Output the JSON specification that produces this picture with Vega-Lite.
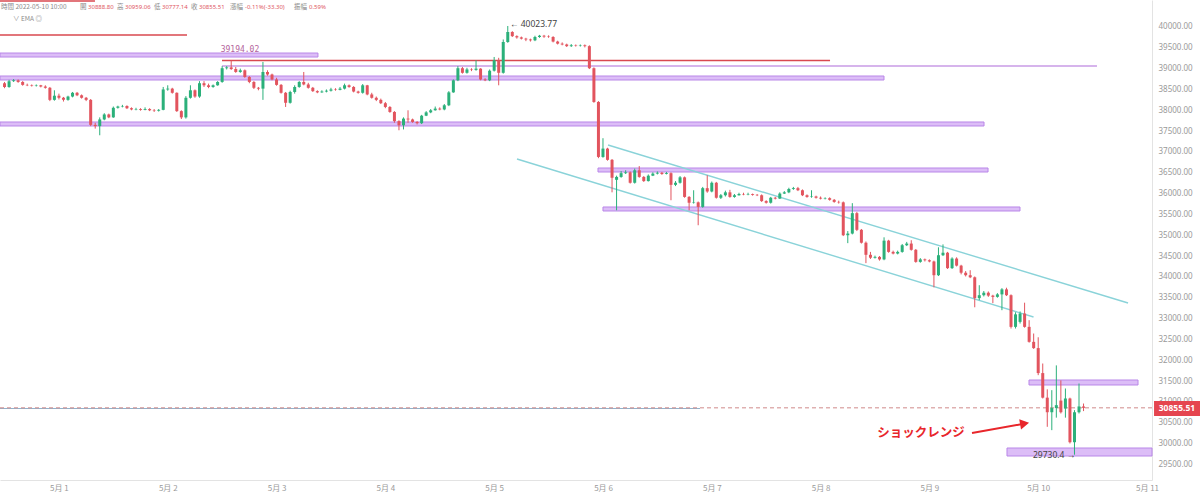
{
"$schema":"https://vega.github.io/schema/vega-lite/v6.json",
"width":1152,"height":480,
"autosize":{"type":"none"},
"padding":{"left":0,"top":0,"right":48,"bottom":14},
"background":"white",
"config":{"view":{"stroke":null},"font":"Noto Sans CJK SC",
"axis":{"ticks":false,"grid":false,"domainColor":"#e3e3e3","labelColor":"#9a9a9a","labelFontSize":8,"labelFont":"Noto Sans CJK SC","labelPadding":4,"labelFlush":false,"labelOverlap":false},
"axisY":{"labelPadding":6,"labelFont":"Noto Sans"}},
"datasets":{"candles":[
{"t":"2022-04-30T12:00","o":38650,"h":38680,"l":38530,"c":38560},
{"t":"2022-04-30T13:00","o":38560,"h":38730,"l":38540,"c":38700},
{"t":"2022-04-30T14:00","o":38700,"h":38750,"l":38680,"c":38720},
{"t":"2022-04-30T15:00","o":38720,"h":38740,"l":38660,"c":38680},
{"t":"2022-04-30T16:00","o":38680,"h":38700,"l":38590,"c":38610},
{"t":"2022-04-30T17:00","o":38610,"h":38640,"l":38580,"c":38600},
{"t":"2022-04-30T18:00","o":38600,"h":38620,"l":38570,"c":38590},
{"t":"2022-04-30T19:00","o":38590,"h":38620,"l":38570,"c":38600},
{"t":"2022-04-30T20:00","o":38600,"h":38610,"l":38550,"c":38570},
{"t":"2022-04-30T21:00","o":38570,"h":38600,"l":38520,"c":38540},
{"t":"2022-04-30T22:00","o":38540,"h":38560,"l":38220,"c":38250},
{"t":"2022-04-30T23:00","o":38250,"h":38480,"l":38230,"c":38350},
{"t":"2022-05-01T00:00","o":38350,"h":38400,"l":38260,"c":38300},
{"t":"2022-05-01T01:00","o":38300,"h":38320,"l":38210,"c":38250},
{"t":"2022-05-01T02:00","o":38250,"h":38350,"l":38230,"c":38330},
{"t":"2022-05-01T03:00","o":38330,"h":38440,"l":38310,"c":38420},
{"t":"2022-05-01T04:00","o":38420,"h":38440,"l":38340,"c":38360},
{"t":"2022-05-01T05:00","o":38360,"h":38380,"l":38280,"c":38300},
{"t":"2022-05-01T06:00","o":38300,"h":38320,"l":38220,"c":38250},
{"t":"2022-05-01T07:00","o":38250,"h":38270,"l":37620,"c":37650},
{"t":"2022-05-01T08:00","o":37650,"h":37700,"l":37560,"c":37620},
{"t":"2022-05-01T09:00","o":37620,"h":37830,"l":37400,"c":37780},
{"t":"2022-05-01T10:00","o":37780,"h":37930,"l":37760,"c":37900},
{"t":"2022-05-01T11:00","o":37900,"h":37920,"l":37810,"c":37830},
{"t":"2022-05-01T12:00","o":37830,"h":38090,"l":37820,"c":38060},
{"t":"2022-05-01T13:00","o":38060,"h":38110,"l":38040,"c":38090},
{"t":"2022-05-01T14:00","o":38090,"h":38130,"l":38070,"c":38100},
{"t":"2022-05-01T15:00","o":38100,"h":38120,"l":38030,"c":38050},
{"t":"2022-05-01T16:00","o":38050,"h":38070,"l":38000,"c":38020},
{"t":"2022-05-01T17:00","o":38020,"h":38060,"l":38000,"c":38030},
{"t":"2022-05-01T18:00","o":38030,"h":38050,"l":37990,"c":38010},
{"t":"2022-05-01T19:00","o":38010,"h":38070,"l":38000,"c":38030},
{"t":"2022-05-01T20:00","o":38030,"h":38050,"l":37980,"c":38000},
{"t":"2022-05-01T21:00","o":38000,"h":38030,"l":37960,"c":37990},
{"t":"2022-05-01T22:00","o":37990,"h":38030,"l":37970,"c":38010},
{"t":"2022-05-01T23:00","o":38010,"h":38560,"l":38000,"c":38500},
{"t":"2022-05-02T00:00","o":38500,"h":38600,"l":38470,"c":38520},
{"t":"2022-05-02T01:00","o":38520,"h":38540,"l":38400,"c":38420},
{"t":"2022-05-02T02:00","o":38420,"h":38430,"l":37960,"c":37980},
{"t":"2022-05-02T03:00","o":37980,"h":38000,"l":37790,"c":37830},
{"t":"2022-05-02T04:00","o":37830,"h":38340,"l":37800,"c":38300},
{"t":"2022-05-02T05:00","o":38300,"h":38600,"l":38280,"c":38480},
{"t":"2022-05-02T06:00","o":38480,"h":38500,"l":38300,"c":38330},
{"t":"2022-05-02T07:00","o":38330,"h":38700,"l":38300,"c":38650},
{"t":"2022-05-02T08:00","o":38650,"h":38700,"l":38560,"c":38600},
{"t":"2022-05-02T09:00","o":38600,"h":38640,"l":38530,"c":38560},
{"t":"2022-05-02T10:00","o":38560,"h":38620,"l":38540,"c":38600},
{"t":"2022-05-02T11:00","o":38600,"h":38700,"l":38590,"c":38680},
{"t":"2022-05-02T12:00","o":38680,"h":39060,"l":38660,"c":39010},
{"t":"2022-05-02T13:00","o":39010,"h":39060,"l":38980,"c":39030},
{"t":"2022-05-02T14:00","o":39030,"h":39194.02,"l":38970,"c":38990},
{"t":"2022-05-02T15:00","o":38990,"h":39040,"l":38900,"c":38920},
{"t":"2022-05-02T16:00","o":38920,"h":39000,"l":38900,"c":38960},
{"t":"2022-05-02T17:00","o":38960,"h":38980,"l":38780,"c":38800},
{"t":"2022-05-02T18:00","o":38800,"h":38820,"l":38650,"c":38680},
{"t":"2022-05-02T19:00","o":38680,"h":38700,"l":38510,"c":38540},
{"t":"2022-05-02T20:00","o":38540,"h":38560,"l":38480,"c":38520},
{"t":"2022-05-02T21:00","o":38520,"h":39160,"l":38250,"c":38920},
{"t":"2022-05-02T22:00","o":38920,"h":38960,"l":38830,"c":38860},
{"t":"2022-05-02T23:00","o":38860,"h":38880,"l":38720,"c":38740},
{"t":"2022-05-03T00:00","o":38740,"h":38780,"l":38590,"c":38610},
{"t":"2022-05-03T01:00","o":38610,"h":38630,"l":38400,"c":38420},
{"t":"2022-05-03T02:00","o":38420,"h":38440,"l":38080,"c":38180},
{"t":"2022-05-03T03:00","o":38180,"h":38470,"l":38160,"c":38440},
{"t":"2022-05-03T04:00","o":38440,"h":38600,"l":38400,"c":38560},
{"t":"2022-05-03T05:00","o":38560,"h":38700,"l":38540,"c":38680},
{"t":"2022-05-03T06:00","o":38680,"h":38920,"l":38600,"c":38620},
{"t":"2022-05-03T07:00","o":38620,"h":38660,"l":38520,"c":38540},
{"t":"2022-05-03T08:00","o":38540,"h":38560,"l":38440,"c":38460},
{"t":"2022-05-03T09:00","o":38460,"h":38480,"l":38410,"c":38430},
{"t":"2022-05-03T10:00","o":38430,"h":38480,"l":38420,"c":38450},
{"t":"2022-05-03T11:00","o":38450,"h":38500,"l":38430,"c":38470},
{"t":"2022-05-03T12:00","o":38470,"h":38540,"l":38450,"c":38500},
{"t":"2022-05-03T13:00","o":38500,"h":38530,"l":38470,"c":38490},
{"t":"2022-05-03T14:00","o":38490,"h":38560,"l":38480,"c":38520},
{"t":"2022-05-03T15:00","o":38520,"h":38640,"l":38500,"c":38600},
{"t":"2022-05-03T16:00","o":38600,"h":38620,"l":38540,"c":38560},
{"t":"2022-05-03T17:00","o":38560,"h":38580,"l":38430,"c":38450},
{"t":"2022-05-03T18:00","o":38450,"h":38470,"l":38400,"c":38420},
{"t":"2022-05-03T19:00","o":38420,"h":38630,"l":38400,"c":38600},
{"t":"2022-05-03T20:00","o":38600,"h":38610,"l":38360,"c":38380},
{"t":"2022-05-03T21:00","o":38380,"h":38420,"l":38280,"c":38300},
{"t":"2022-05-03T22:00","o":38300,"h":38330,"l":38220,"c":38250},
{"t":"2022-05-03T23:00","o":38250,"h":38280,"l":38150,"c":38170},
{"t":"2022-05-04T00:00","o":38170,"h":38200,"l":38050,"c":38080},
{"t":"2022-05-04T01:00","o":38080,"h":38100,"l":37940,"c":37960},
{"t":"2022-05-04T02:00","o":37960,"h":37980,"l":37700,"c":37740},
{"t":"2022-05-04T03:00","o":37740,"h":37760,"l":37520,"c":37640},
{"t":"2022-05-04T04:00","o":37640,"h":37830,"l":37540,"c":37800},
{"t":"2022-05-04T05:00","o":37800,"h":38000,"l":37700,"c":37780},
{"t":"2022-05-04T06:00","o":37780,"h":37800,"l":37700,"c":37720},
{"t":"2022-05-04T07:00","o":37720,"h":37740,"l":37660,"c":37690},
{"t":"2022-05-04T08:00","o":37690,"h":37890,"l":37670,"c":37870},
{"t":"2022-05-04T09:00","o":37870,"h":37980,"l":37860,"c":37950},
{"t":"2022-05-04T10:00","o":37950,"h":38030,"l":37930,"c":38000},
{"t":"2022-05-04T11:00","o":38000,"h":38090,"l":37990,"c":38040},
{"t":"2022-05-04T12:00","o":38040,"h":38070,"l":38000,"c":38020},
{"t":"2022-05-04T13:00","o":38020,"h":38150,"l":38000,"c":38120},
{"t":"2022-05-04T14:00","o":38120,"h":38460,"l":38100,"c":38430},
{"t":"2022-05-04T15:00","o":38430,"h":38740,"l":38420,"c":38720},
{"t":"2022-05-04T16:00","o":38720,"h":39060,"l":38700,"c":39010},
{"t":"2022-05-04T17:00","o":39010,"h":39040,"l":38880,"c":38900},
{"t":"2022-05-04T18:00","o":38900,"h":39020,"l":38880,"c":38980},
{"t":"2022-05-04T19:00","o":38980,"h":39010,"l":38940,"c":38970},
{"t":"2022-05-04T20:00","o":38970,"h":39200,"l":38950,"c":39000},
{"t":"2022-05-04T21:00","o":39000,"h":39010,"l":38720,"c":38740},
{"t":"2022-05-04T22:00","o":38740,"h":38770,"l":38700,"c":38720},
{"t":"2022-05-04T23:00","o":38720,"h":38980,"l":38700,"c":38950},
{"t":"2022-05-05T00:00","o":38950,"h":39280,"l":38930,"c":39200},
{"t":"2022-05-05T01:00","o":39200,"h":39260,"l":38600,"c":38900},
{"t":"2022-05-05T02:00","o":38900,"h":39700,"l":38880,"c":39640},
{"t":"2022-05-05T03:00","o":39640,"h":40023.77,"l":39620,"c":39880},
{"t":"2022-05-05T04:00","o":39880,"h":39900,"l":39760,"c":39780},
{"t":"2022-05-05T05:00","o":39780,"h":39800,"l":39720,"c":39750},
{"t":"2022-05-05T06:00","o":39750,"h":39770,"l":39700,"c":39720},
{"t":"2022-05-05T07:00","o":39720,"h":39740,"l":39660,"c":39700},
{"t":"2022-05-05T08:00","o":39700,"h":39720,"l":39650,"c":39680},
{"t":"2022-05-05T09:00","o":39680,"h":39790,"l":39660,"c":39760},
{"t":"2022-05-05T10:00","o":39760,"h":39810,"l":39740,"c":39790},
{"t":"2022-05-05T11:00","o":39790,"h":39810,"l":39740,"c":39770},
{"t":"2022-05-05T12:00","o":39770,"h":39800,"l":39740,"c":39760},
{"t":"2022-05-05T13:00","o":39760,"h":39780,"l":39630,"c":39650},
{"t":"2022-05-05T14:00","o":39650,"h":39670,"l":39580,"c":39600},
{"t":"2022-05-05T15:00","o":39600,"h":39630,"l":39560,"c":39580},
{"t":"2022-05-05T16:00","o":39580,"h":39600,"l":39520,"c":39540},
{"t":"2022-05-05T17:00","o":39540,"h":39590,"l":39520,"c":39560},
{"t":"2022-05-05T18:00","o":39560,"h":39580,"l":39530,"c":39550},
{"t":"2022-05-05T19:00","o":39550,"h":39580,"l":39530,"c":39560},
{"t":"2022-05-05T20:00","o":39560,"h":39580,"l":39510,"c":39540},
{"t":"2022-05-05T21:00","o":39540,"h":39560,"l":38990,"c":39010},
{"t":"2022-05-05T22:00","o":39010,"h":39030,"l":38180,"c":38200},
{"t":"2022-05-05T23:00","o":38200,"h":38220,"l":36850,"c":36880},
{"t":"2022-05-06T00:00","o":36880,"h":37330,"l":36860,"c":37080},
{"t":"2022-05-06T01:00","o":37080,"h":37100,"l":36790,"c":36810},
{"t":"2022-05-06T02:00","o":36810,"h":36830,"l":36030,"c":36380},
{"t":"2022-05-06T03:00","o":36330,"h":36430,"l":35600,"c":36400},
{"t":"2022-05-06T04:00","o":36400,"h":36540,"l":36380,"c":36490},
{"t":"2022-05-06T05:00","o":36490,"h":36560,"l":36470,"c":36510},
{"t":"2022-05-06T06:00","o":36510,"h":36530,"l":36240,"c":36260},
{"t":"2022-05-06T07:00","o":36260,"h":36600,"l":36240,"c":36560},
{"t":"2022-05-06T08:00","o":36560,"h":36660,"l":36380,"c":36400},
{"t":"2022-05-06T09:00","o":36400,"h":36420,"l":36280,"c":36300},
{"t":"2022-05-06T10:00","o":36300,"h":36460,"l":36290,"c":36430},
{"t":"2022-05-06T11:00","o":36430,"h":36510,"l":36420,"c":36480},
{"t":"2022-05-06T12:00","o":36480,"h":36530,"l":36460,"c":36500},
{"t":"2022-05-06T13:00","o":36500,"h":36520,"l":36450,"c":36470},
{"t":"2022-05-06T14:00","o":36470,"h":36520,"l":36460,"c":36490},
{"t":"2022-05-06T15:00","o":36490,"h":36510,"l":35840,"c":36210},
{"t":"2022-05-06T16:00","o":36210,"h":36300,"l":36180,"c":36260},
{"t":"2022-05-06T17:00","o":36260,"h":36420,"l":36240,"c":36390},
{"t":"2022-05-06T18:00","o":36390,"h":36410,"l":35900,"c":35920},
{"t":"2022-05-06T19:00","o":35920,"h":35940,"l":35600,"c":35780},
{"t":"2022-05-06T20:00","o":35780,"h":36080,"l":35760,"c":35790},
{"t":"2022-05-06T21:00","o":35790,"h":35810,"l":35240,"c":35680},
{"t":"2022-05-06T22:00","o":35680,"h":36160,"l":35660,"c":36130},
{"t":"2022-05-06T23:00","o":36130,"h":36440,"l":36020,"c":36050},
{"t":"2022-05-07T00:00","o":36050,"h":36290,"l":36030,"c":36260},
{"t":"2022-05-07T01:00","o":36260,"h":36280,"l":35880,"c":35900},
{"t":"2022-05-07T02:00","o":35900,"h":35990,"l":35870,"c":35960},
{"t":"2022-05-07T03:00","o":35960,"h":36070,"l":35930,"c":36030},
{"t":"2022-05-07T04:00","o":36030,"h":36090,"l":35900,"c":35920},
{"t":"2022-05-07T05:00","o":35920,"h":35990,"l":35900,"c":35960},
{"t":"2022-05-07T06:00","o":35960,"h":36020,"l":35950,"c":35990},
{"t":"2022-05-07T07:00","o":35990,"h":36020,"l":35960,"c":35980},
{"t":"2022-05-07T08:00","o":35980,"h":36020,"l":35960,"c":35990},
{"t":"2022-05-07T09:00","o":35990,"h":36000,"l":35950,"c":35970},
{"t":"2022-05-07T10:00","o":35970,"h":35990,"l":35940,"c":35960},
{"t":"2022-05-07T11:00","o":35960,"h":35980,"l":35800,"c":35820},
{"t":"2022-05-07T12:00","o":35820,"h":35840,"l":35760,"c":35780},
{"t":"2022-05-07T13:00","o":35780,"h":35920,"l":35760,"c":35900},
{"t":"2022-05-07T14:00","o":35900,"h":35920,"l":35860,"c":35880},
{"t":"2022-05-07T15:00","o":35880,"h":36030,"l":35870,"c":36000},
{"t":"2022-05-07T16:00","o":36000,"h":36060,"l":35990,"c":36030},
{"t":"2022-05-07T17:00","o":36030,"h":36140,"l":36010,"c":36110},
{"t":"2022-05-07T18:00","o":36110,"h":36160,"l":36090,"c":36130},
{"t":"2022-05-07T19:00","o":36130,"h":36160,"l":36060,"c":36080},
{"t":"2022-05-07T20:00","o":36080,"h":36100,"l":35940,"c":35960},
{"t":"2022-05-07T21:00","o":35960,"h":35980,"l":35900,"c":35920},
{"t":"2022-05-07T22:00","o":35920,"h":36080,"l":35900,"c":35930},
{"t":"2022-05-07T23:00","o":35930,"h":35950,"l":35880,"c":35900},
{"t":"2022-05-08T00:00","o":35900,"h":35930,"l":35860,"c":35880},
{"t":"2022-05-08T01:00","o":35880,"h":35910,"l":35860,"c":35890},
{"t":"2022-05-08T02:00","o":35890,"h":35910,"l":35830,"c":35850},
{"t":"2022-05-08T03:00","o":35850,"h":35870,"l":35780,"c":35800},
{"t":"2022-05-08T04:00","o":35800,"h":35830,"l":35760,"c":35790},
{"t":"2022-05-08T05:00","o":35790,"h":35810,"l":34980,"c":35000},
{"t":"2022-05-08T06:00","o":35000,"h":35100,"l":34810,"c":35040},
{"t":"2022-05-08T07:00","o":35040,"h":35770,"l":35020,"c":35530},
{"t":"2022-05-08T08:00","o":35530,"h":35560,"l":35100,"c":35130},
{"t":"2022-05-08T09:00","o":35130,"h":35150,"l":34800,"c":34820},
{"t":"2022-05-08T10:00","o":34820,"h":34850,"l":34330,"c":34530},
{"t":"2022-05-08T11:00","o":34530,"h":34600,"l":34430,"c":34460},
{"t":"2022-05-08T12:00","o":34460,"h":34510,"l":34440,"c":34480},
{"t":"2022-05-08T13:00","o":34480,"h":34500,"l":34390,"c":34420},
{"t":"2022-05-08T14:00","o":34420,"h":34950,"l":34400,"c":34870},
{"t":"2022-05-08T15:00","o":34870,"h":34890,"l":34580,"c":34600},
{"t":"2022-05-08T16:00","o":34600,"h":34630,"l":34540,"c":34560},
{"t":"2022-05-08T17:00","o":34560,"h":34630,"l":34540,"c":34600},
{"t":"2022-05-08T18:00","o":34600,"h":34790,"l":34580,"c":34760},
{"t":"2022-05-08T19:00","o":34760,"h":34840,"l":34740,"c":34800},
{"t":"2022-05-08T20:00","o":34800,"h":34880,"l":34630,"c":34650},
{"t":"2022-05-08T21:00","o":34650,"h":34670,"l":34340,"c":34360},
{"t":"2022-05-08T22:00","o":34360,"h":34450,"l":34340,"c":34420},
{"t":"2022-05-08T23:00","o":34420,"h":34440,"l":34370,"c":34400},
{"t":"2022-05-09T00:00","o":34400,"h":34420,"l":34350,"c":34370},
{"t":"2022-05-09T01:00","o":34370,"h":34390,"l":33750,"c":34040},
{"t":"2022-05-09T02:00","o":34040,"h":34710,"l":34020,"c":34520},
{"t":"2022-05-09T03:00","o":34520,"h":34780,"l":34500,"c":34580},
{"t":"2022-05-09T04:00","o":34580,"h":34600,"l":34190,"c":34210},
{"t":"2022-05-09T05:00","o":34210,"h":34470,"l":34190,"c":34440},
{"t":"2022-05-09T06:00","o":34440,"h":34470,"l":34250,"c":34270},
{"t":"2022-05-09T07:00","o":34270,"h":34290,"l":34060,"c":34100},
{"t":"2022-05-09T08:00","o":34100,"h":34140,"l":34010,"c":34040},
{"t":"2022-05-09T09:00","o":34040,"h":34160,"l":33970,"c":33990},
{"t":"2022-05-09T10:00","o":33990,"h":34010,"l":33270,"c":33490},
{"t":"2022-05-09T11:00","o":33490,"h":33800,"l":33440,"c":33560},
{"t":"2022-05-09T12:00","o":33560,"h":33660,"l":33530,"c":33620},
{"t":"2022-05-09T13:00","o":33620,"h":33650,"l":33520,"c":33550},
{"t":"2022-05-09T14:00","o":33550,"h":33570,"l":33370,"c":33520},
{"t":"2022-05-09T15:00","o":33520,"h":33610,"l":33500,"c":33580},
{"t":"2022-05-09T16:00","o":33580,"h":33730,"l":33200,"c":33700},
{"t":"2022-05-09T17:00","o":33700,"h":33740,"l":33540,"c":33560},
{"t":"2022-05-09T18:00","o":33560,"h":33580,"l":32760,"c":32800},
{"t":"2022-05-09T19:00","o":32800,"h":33150,"l":32760,"c":33100},
{"t":"2022-05-09T20:00","o":32920,"h":33170,"l":32880,"c":33120},
{"t":"2022-05-09T21:00","o":33120,"h":33380,"l":32780,"c":32800},
{"t":"2022-05-09T22:00","o":32800,"h":32960,"l":32420,"c":32440},
{"t":"2022-05-09T23:00","o":32440,"h":32640,"l":32270,"c":32290},
{"t":"2022-05-10T00:00","o":32290,"h":32550,"l":31640,"c":31690},
{"t":"2022-05-10T01:00","o":31690,"h":31920,"l":31080,"c":31100},
{"t":"2022-05-10T02:00","o":31100,"h":31300,"l":30400,"c":30750},
{"t":"2022-05-10T03:00","o":30750,"h":31280,"l":30320,"c":30850},
{"t":"2022-05-10T04:00","o":30850,"h":31875,"l":30620,"c":30920},
{"t":"2022-05-10T05:00","o":31030,"h":31515,"l":30720,"c":30750},
{"t":"2022-05-10T06:00","o":30840,"h":31320,"l":30620,"c":31080},
{"t":"2022-05-10T07:00","o":31080,"h":31100,"l":30000,"c":30030},
{"t":"2022-05-10T08:00","o":30030,"h":30800,"l":29730.4,"c":30750},
{"t":"2022-05-10T09:00","o":30750,"h":31440,"l":30720,"c":30888.8},
{"t":"2022-05-10T10:00","o":30888.8,"h":30959.06,"l":30777.14,"c":30855.51}
]},
"layer":[
{"data":{"values":[
{"t1":"2022-04-30T11:00","t2":"2022-05-03T09:08","v1":39279,"v2":39375},
{"t1":"2022-04-30T11:00","t2":"2022-05-08T13:59","v1":38727,"v2":38823},
{"t1":"2022-04-30T11:00","t2":"2022-05-09T12:03","v1":37623,"v2":37719},
{"t1":"2022-05-05T22:54","t2":"2022-05-09T12:56","v1":36518,"v2":36614},
{"t1":"2022-05-06T00:00","t2":"2022-05-09T19:59","v1":35582,"v2":35678},
{"t1":"2022-05-09T21:58","t2":"2022-05-10T22:01","v1":31404,"v2":31524},
{"t1":"2022-05-09T17:07","t2":"2022-05-11T01:06","v1":29699,"v2":29891}]},
"mark":{"type":"rect","fill":"#dcbdf7","stroke":"#b987e8","strokeWidth":1},
"encoding":{
"x":{"field":"t1","type":"temporal","scale":{"type":"time","padding":0,"domain":[{"year":2022,"month":4,"date":30,"hours":11},{"year":2022,"month":5,"date":11,"hours":1,"minutes":6}]},
"axis":{"title":null,"tickCount":{"interval":"day","step":1},"labelExpr":"'5月 ' + date(datum.value)"}},
"x2":{"field":"t2"},
"y":{"field":"v1","type":"quantitative","scale":{"domain":[29123,40648],"zero":false,"nice":false,"padding":0},
"axis":{"title":null,"orient":"right","values":[29500,30000,30500,31000,31500,32000,32500,33000,33500,34000,34500,35000,35500,36000,36500,37000,37500,38000,38500,39000,39500,40000],"format":".2f"}},
"y2":{"field":"v2"}}},
{"data":{"values":[
{"t1":"2022-04-30T11:00","t2":"2022-05-01T07:57","v":40624,"k":"red"},
{"t1":"2022-04-30T11:00","t2":"2022-05-02T04:15","v":39808,"k":"red"},
{"t1":"2022-05-02T11:58","t2":"2022-05-08T02:05","v":39194.02,"k":"red"},
{"t1":"2022-05-02T11:58","t2":"2022-05-10T12:58","v":39063,"k":"purple"}]},
"mark":{"type":"rule","strokeWidth":1.5},
"encoding":{"x":{"field":"t1","type":"temporal","axis":{"title":null,"tickCount":{"interval":"day","step":1},"labelExpr":"'5月 ' + date(datum.value)"}},"x2":{"field":"t2"},
"y":{"field":"v","type":"quantitative","axis":{"title":null,"orient":"right","values":[29500,30000,30500,31000,31500,32000,32500,33000,33500,34000,34500,35000,35500,36000,36500,37000,37500,38000,38500,39000,39500,40000],"format":".2f"}},
"color":{"field":"k","type":"nominal","scale":{"domain":["red","purple"],"range":["#d9484f","#c99be6"]},"legend":null}}},
{"data":{"values":[
{"t1":"2022-05-06T01:07","v1":37166,"t2":"2022-05-10T19:49","v2":33373},
{"t1":"2022-05-05T05:02","v1":36830,"t2":"2022-05-09T22:58","v2":33037}]},
"mark":{"type":"rule","color":"#8ad3d9","strokeWidth":1.4},
"encoding":{"x":{"field":"t1","type":"temporal","axis":{"title":null,"tickCount":{"interval":"day","step":1},"labelExpr":"'5月 ' + date(datum.value)"}},"x2":{"field":"t2"},
"y":{"field":"v1","type":"quantitative","axis":{"title":null,"orient":"right","values":[29500,30000,30500,31000,31500,32000,32500,33000,33500,34000,34500,35000,35500,36000,36500,37000,37500,38000,38500,39000,39500,40000],"format":".2f"}},"y2":{"field":"v2"}}},
{"data":{"values":[{"t1":"2022-04-30T11:00","t2":"2022-05-06T21:24","v":30840}]},
"mark":{"type":"rule","color":"#4a7fa8","strokeWidth":1.2,"opacity":0.6},
"encoding":{"x":{"field":"t1","type":"temporal","axis":{"title":null,"tickCount":{"interval":"day","step":1},"labelExpr":"'5月 ' + date(datum.value)"}},"x2":{"field":"t2"},
"y":{"field":"v","type":"quantitative","axis":{"title":null,"orient":"right","values":[29500,30000,30500,31000,31500,32000,32500,33000,33500,34000,34500,35000,35500,36000,36500,37000,37500,38000,38500,39000,39500,40000],"format":".2f"}}}},
{"data":{"values":[{"t1":"2022-04-30T11:00","t2":"2022-05-11T01:06","v":30855.51}]},
"mark":{"type":"rule","color":"#d08a8a","strokeWidth":1,"strokeDash":[4,3]},
"encoding":{"x":{"field":"t1","type":"temporal","axis":{"title":null,"tickCount":{"interval":"day","step":1},"labelExpr":"'5月 ' + date(datum.value)"}},"x2":{"field":"t2"},
"y":{"field":"v","type":"quantitative","axis":{"title":null,"orient":"right","values":[29500,30000,30500,31000,31500,32000,32500,33000,33500,34000,34500,35000,35500,36000,36500,37000,37500,38000,38500,39000,39500,40000],"format":".2f"}}}},
{"data":{"name":"candles"},
"mark":{"type":"rule","strokeWidth":1},
"encoding":{"x":{"field":"t","type":"temporal","axis":{"title":null,"tickCount":{"interval":"day","step":1},"labelExpr":"'5月 ' + date(datum.value)"}},
"y":{"field":"l","type":"quantitative","axis":{"title":null,"orient":"right","values":[29500,30000,30500,31000,31500,32000,32500,33000,33500,34000,34500,35000,35500,36000,36500,37000,37500,38000,38500,39000,39500,40000],"format":".2f"}},"y2":{"field":"h"},
"color":{"condition":{"test":"datum.c >= datum.o","value":"#2bb07a"},"value":"#e2545e"}}},
{"data":{"name":"candles"},
"mark":{"type":"bar","size":3},
"encoding":{"x":{"field":"t","type":"temporal","scale":{"type":"time","padding":0,"domain":[{"year":2022,"month":4,"date":30,"hours":11},{"year":2022,"month":5,"date":11,"hours":1,"minutes":6}]},"axis":{"title":null,"tickCount":{"interval":"day","step":1},"labelExpr":"'5月 ' + date(datum.value)"}},
"y":{"field":"o","type":"quantitative","axis":{"title":null,"orient":"right","values":[29500,30000,30500,31000,31500,32000,32500,33000,33500,34000,34500,35000,35500,36000,36500,37000,37500,38000,38500,39000,39500,40000],"format":".2f"}},"y2":{"field":"c"},
"color":{"condition":{"test":"datum.c >= datum.o","value":"#2bb07a"},"value":"#e2545e"}}},
{"data":{"values":[{"t":"2022-05-02T15:56","v":39447,"s":"39194.02"}]},
"mark":{"type":"text","color":"#b4639c","font":"DejaVu Sans Mono","fontSize":8,"align":"center","baseline":"middle"},
"encoding":{"x":{"field":"t","type":"temporal","axis":{"title":null,"tickCount":{"interval":"day","step":1},"labelExpr":"'5月 ' + date(datum.value)"}},
"y":{"field":"v","type":"quantitative","axis":{"title":null,"orient":"right","values":[29500,30000,30500,31000,31500,32000,32500,33000,33500,34000,34500,35000,35500,36000,36500,37000,37500,38000,38500,39000,39500,40000],"format":".2f"}},"text":{"field":"s"}}},
{"data":{"values":[{"t":"2022-05-05T03:30","v":40072,"s":"← 40023.77"}]},
"mark":{"type":"text","color":"#444444","font":"Noto Sans","fontSize":8.5,"align":"left","baseline":"middle"},
"encoding":{"x":{"field":"t","type":"temporal","axis":{"title":null,"tickCount":{"interval":"day","step":1},"labelExpr":"'5月 ' + date(datum.value)"}},
"y":{"field":"v","type":"quantitative","axis":{"title":null,"orient":"right","values":[29500,30000,30500,31000,31500,32000,32500,33000,33500,34000,34500,35000,35500,36000,36500,37000,37500,38000,38500,39000,39500,40000],"format":".2f"}},"text":{"field":"s"}}},
{"data":{"values":[{"t":"2022-05-10T03:30","v":29723,"s":"29730.4 →"}]},
"mark":{"type":"text","color":"#444444","font":"Noto Sans","fontSize":8.5,"align":"center","baseline":"middle"},
"encoding":{"x":{"field":"t","type":"temporal","axis":{"title":null,"tickCount":{"interval":"day","step":1},"labelExpr":"'5月 ' + date(datum.value)"}},
"y":{"field":"v","type":"quantitative","axis":{"title":null,"orient":"right","values":[29500,30000,30500,31000,31500,32000,32500,33000,33500,34000,34500,35000,35500,36000,36500,37000,37500,38000,38500,39000,39500,40000],"format":".2f"}},"text":{"field":"s"}}},
{"data":{"values":[{"t":"2022-05-08T22:09","v":30251,"s":"ショックレンジ"}]},
"mark":{"type":"text","color":"#e8262b","font":"Noto Sans CJK JP","fontWeight":"bold","fontSize":12.5,"align":"center","baseline":"middle"},
"encoding":{"x":{"field":"t","type":"temporal","axis":{"title":null,"tickCount":{"interval":"day","step":1},"labelExpr":"'5月 ' + date(datum.value)"}},
"y":{"field":"v","type":"quantitative","axis":{"title":null,"orient":"right","values":[29500,30000,30500,31000,31500,32000,32500,33000,33500,34000,34500,35000,35500,36000,36500,37000,37500,38000,38500,39000,39500,40000],"format":".2f"}},"text":{"field":"s"}}},
{"data":{"values":[{"t1":"2022-05-09T09:24","v1":30251,"t2":"2022-05-09T20:30","v2":30467}]},
"mark":{"type":"rule","color":"#e8262b","strokeWidth":2},
"encoding":{"x":{"field":"t1","type":"temporal","axis":{"title":null,"tickCount":{"interval":"day","step":1},"labelExpr":"'5月 ' + date(datum.value)"}},"x2":{"field":"t2"},
"y":{"field":"v1","type":"quantitative","axis":{"title":null,"orient":"right","values":[29500,30000,30500,31000,31500,32000,32500,33000,33500,34000,34500,35000,35500,36000,36500,37000,37500,38000,38500,39000,39500,40000],"format":".2f"}},"y2":{"field":"v2"}}},
{"data":{"values":[{"t":"2022-05-09T21:00","v":30478}]},
"mark":{"type":"point","shape":"triangle-right","filled":true,"size":110,"angle":350,"color":"#e8262b","opacity":1},
"encoding":{"x":{"field":"t","type":"temporal","axis":{"title":null,"tickCount":{"interval":"day","step":1},"labelExpr":"'5月 ' + date(datum.value)"}},
"y":{"field":"v","type":"quantitative","axis":{"title":null,"orient":"right","values":[29500,30000,30500,31000,31500,32000,32500,33000,33500,34000,34500,35000,35500,36000,36500,37000,37500,38000,38500,39000,39500,40000],"format":".2f"}}}},
{"data":{"values":[{"t1":"2022-05-11T01:33","t2":"2022-05-11T11:42","v1":30660,"v2":31020}]},
"mark":{"type":"rect","color":"#e5454f"},
"encoding":{"x":{"field":"t1","type":"temporal","axis":{"title":null,"tickCount":{"interval":"day","step":1},"labelExpr":"'5月 ' + date(datum.value)"}},"x2":{"field":"t2"},
"y":{"field":"v1","type":"quantitative","axis":{"title":null,"orient":"right","values":[29500,30000,30500,31000,31500,32000,32500,33000,33500,34000,34500,35000,35500,36000,36500,37000,37500,38000,38500,39000,39500,40000],"format":".2f"}},"y2":{"field":"v2"}}},
{"data":{"values":[{"t":"2022-05-11T06:36","v":30845,"s":"30855.51"}]},
"mark":{"type":"text","color":"white","font":"Noto Sans","fontSize":8.5,"fontWeight":"bold","align":"center","baseline":"middle"},
"encoding":{"x":{"field":"t","type":"temporal","axis":{"title":null,"tickCount":{"interval":"day","step":1},"labelExpr":"'5月 ' + date(datum.value)"}},
"y":{"field":"v","type":"quantitative","axis":{"title":null,"orient":"right","values":[29500,30000,30500,31000,31500,32000,32500,33000,33500,34000,34500,35000,35500,36000,36500,37000,37500,38000,38500,39000,39500,40000],"format":".2f"}},"text":{"field":"s"}}},
{"data":{"values":[
{"t":"2022-04-30T11:13","v":40480,"s":"時間 2022-05-10 10:00"},
{"t":"2022-05-01T04:39","v":40480,"s":"開"},
{"t":"2022-05-01T12:49","v":40480,"s":"高"},
{"t":"2022-05-01T20:58","v":40480,"s":"低"},
{"t":"2022-05-02T05:08","v":40480,"s":"收"},
{"t":"2022-05-02T13:44","v":40480,"s":"漲幅"},
{"t":"2022-05-03T03:51","v":40480,"s":"振幅"},
{"t":"2022-04-30T13:52","v":40192,"s":"∨   EMA    ◎"}]},
"mark":{"type":"text","color":"#8a8a8a","font":"Noto Sans CJK TC","fontSize":6.5,"align":"left","baseline":"middle"},
"encoding":{"x":{"field":"t","type":"temporal","axis":{"title":null,"tickCount":{"interval":"day","step":1},"labelExpr":"'5月 ' + date(datum.value)"}},
"y":{"field":"v","type":"quantitative","axis":{"title":null,"orient":"right","values":[29500,30000,30500,31000,31500,32000,32500,33000,33500,34000,34500,35000,35500,36000,36500,37000,37500,38000,38500,39000,39500,40000],"format":".2f"}},"text":{"field":"s"}}},
{"data":{"values":[
{"t":"2022-05-01T06:25","v":40480,"s":"30888.80"},
{"t":"2022-05-01T14:34","v":40480,"s":"30959.06"},
{"t":"2022-05-01T22:44","v":40480,"s":"30777.14"},
{"t":"2022-05-02T06:53","v":40480,"s":"30855.51"},
{"t":"2022-05-02T17:02","v":40480,"s":"-0.11%(-33.30)"},
{"t":"2022-05-03T07:10","v":40480,"s":"0.59%"}]},
"mark":{"type":"text","color":"#e0575f","font":"Noto Sans","fontSize":6,"align":"left","baseline":"middle"},
"encoding":{"x":{"field":"t","type":"temporal","axis":{"title":null,"tickCount":{"interval":"day","step":1},"labelExpr":"'5月 ' + date(datum.value)"}},
"y":{"field":"v","type":"quantitative","axis":{"title":null,"orient":"right","values":[29500,30000,30500,31000,31500,32000,32500,33000,33500,34000,34500,35000,35500,36000,36500,37000,37500,38000,38500,39000,39500,40000],"format":".2f"}},"text":{"field":"s"}}}
]
}
